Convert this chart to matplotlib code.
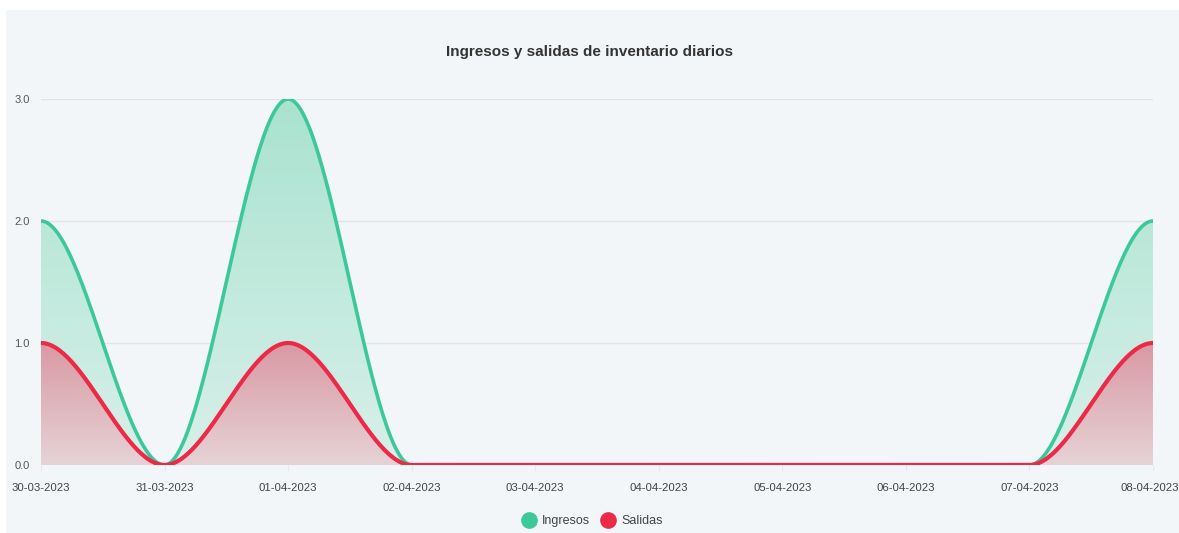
import matplotlib
matplotlib.use("Agg")
import matplotlib.pyplot as plt
import numpy as np
from matplotlib.patches import Rectangle
from matplotlib.lines import Line2D
from matplotlib.colors import to_rgb
from matplotlib.transforms import ScaledTranslation

# daily inventory movements
fechas = ["30-03-2023", "31-03-2023", "01-04-2023", "02-04-2023", "03-04-2023",
          "04-04-2023", "05-04-2023", "06-04-2023", "07-04-2023", "08-04-2023"]
ingresos = [2, 0, 3, 0, 0, 0, 0, 0, 0, 2]
salidas = [1, 0, 1, 0, 0, 0, 0, 0, 0, 1]

verde = "#3cc99a"
rojo = "#ec2a48"
fondo = "#f3f6f9"
plt.rcParams['font.family'] = ['Liberation Sans', 'DejaVu Sans']


def suavizar(y, n=60):
    # cubic hermite with flat tangents at every point
    xs, ys = [], []
    for i in range(len(y) - 1):
        t = np.linspace(0, 1, n, endpoint=False)
        h = 3 * t ** 2 - 2 * t ** 3
        xs.append(i + t)
        ys.append(y[i] + (y[i + 1] - y[i]) * h)
    xs.append([len(y) - 1])
    ys.append([y[-1]])
    return np.concatenate(xs), np.concatenate(ys)


def relleno_gradiente(ax, x, y, c_top, c_bot, ymax, alpha=0.92):
    top, bot = np.array(to_rgb(c_top)), np.array(to_rgb(c_bot))
    t = np.linspace(0, 1, 256)[:, None]
    grad = np.ones((256, 1, 4))
    grad[:, 0, :3] = bot + (top - bot) * t
    grad[:, 0, 3] = alpha
    poly = ax.fill_between(x, y, 0, color="none", lw=0)
    img = ax.imshow(grad, aspect="auto", origin="lower",
                    extent=[x.min(), x.max(), 0, ymax], zorder=1)
    img.set_clip_path(poly.get_paths()[0], transform=ax.transData)


fig = plt.figure(figsize=(11.79, 5.33), dpi=100)
fig.patch.set_facecolor("white")
fig.patches.append(Rectangle((6 / 1179, 0), 1 - 6 / 1179, 1 - 10 / 533,
                             transform=fig.transFigure, facecolor=fondo,
                             edgecolor="none", zorder=-10))

ax = fig.add_axes([41 / 1179, (533 - 465) / 533, (1153 - 41) / 1179, (465 - 99) / 533])
ax.set_facecolor("none")
x = np.arange(len(fechas))

xi, yi = suavizar(ingresos)
xs, ys = suavizar(salidas)

relleno_gradiente(ax, xi, yi, "#a3e1cc", "#d6f0e9", max(ingresos))
relleno_gradiente(ax, xs, ys, "#d999a3", "#e6d3d6", max(salidas), alpha=1.0)
ax.plot(xi, yi, color=verde, lw=2.6, zorder=3, solid_capstyle="round")
ax.plot(xs, ys, color=rojo, lw=3.0, zorder=4, solid_capstyle="round")

ax.set_xlim(0, len(fechas) - 1)
ax.set_ylim(0, 3.0)
ax.set_yticks([0, 1, 2, 3])
ax.set_yticklabels(["0.0", "1.0", "2.0", "3.0"])
ax.set_xticks(x)
ax.set_xticklabels(fechas)
ax.tick_params(axis="y", length=0, pad=8, labelsize=8, labelcolor="#555555")
ax.tick_params(axis="x", length=4, color="#e6e8ea", pad=9, labelsize=8.2, labelcolor="#444444")
# pull the last date in so it stays inside the figure
ultimo = ax.get_xticklabels()[-1]
ultimo.set_transform(ultimo.get_transform() + ScaledTranslation(-3 / 100, 0, fig.dpi_scale_trans))
for v in [1, 2, 3]:
    ax.axhline(v, color="#e2e4e6", lw=1, zorder=0.5)
for s in ax.spines.values():
    s.set_visible(False)

fig.text(0.5, 1 - 52 / 533, "Ingresos y salidas de inventario diarios",
         ha="center", va="center", fontsize=11, color="#333333", fontweight="bold")

handles = [Line2D([], [], marker="o", ls="none", markersize=11, color=verde),
           Line2D([], [], marker="o", ls="none", markersize=11, color=rojo)]
fig.legend(handles, ["Ingresos", "Salidas"], loc="center", ncol=2,
           bbox_to_anchor=(0.5, 1 - 521 / 533), frameon=False, fontsize=9,
           handletextpad=0.0, columnspacing=0.5, labelcolor="#444444")

fig.savefig("out.png", dpi=100, facecolor=fig.get_facecolor())
